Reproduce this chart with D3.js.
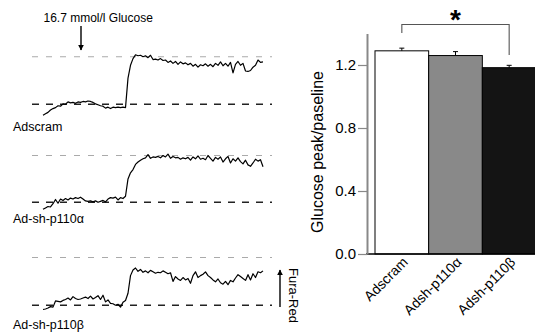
<!DOCTYPE html>
<html>
<head>
<meta charset="utf-8">
<script src="https://cdn.jsdelivr.net/npm/d3@7"></script>
<style>
  body { margin: 0; background: #fff; }
  svg { display: block; font-family: "Liberation Sans", Arial, sans-serif; }
</style>
</head>
<body>
<svg id="chart" width="535" height="333"></svg>
<script>
// ---- data ----
// Fura-Red traces, normalised: 0 = basal (black dashed), 1 = Adscram peak (grey dashed)
const adscramTrace = [
  -0.23, -0.2, -0.17, -0.12, -0.09, -0.07, -0.03, -0.04, 0.01, 0.0,
  0.05, 0.03, 0.04, 0.02, 0.05, 0.04, 0.06, 0.05, 0.07, 0.06,
  0.04, 0.01, -0.01, -0.03, -0.04, -0.08, -0.06, -0.09, -0.06, -0.07,
  -0.06, -0.07, -0.06, -0.07, 0.55, 0.82, 0.96, 1.04, 1.02, 1.03,
  1.0, 1.02, 0.98, 1.03, 0.94, 0.95, 0.93, 0.96, 0.92, 0.93,
  0.88, 0.91, 0.86, 0.9, 0.84, 0.89, 0.85, 0.87, 0.83, 0.86,
  0.8, 0.84, 0.78, 0.83, 0.81, 0.85, 0.8, 0.84, 0.79, 0.86,
  0.82, 0.89, 0.81, 0.86, 0.8, 0.88, 0.66, 0.84, 0.9, 0.82,
  0.86, 0.7, 0.69, 0.71, 0.78, 0.82, 0.93, 0.88, 0.89
];
const p110aTrace = [
  -0.15, -0.12, -0.09, -0.1, -0.03, 0.06, -0.02, 0.07, 0.04, 0.08,
  0.05, 0.09, 0.07, 0.1, 0.08, 0.11, 0.07, 0.03, 0.02, 0.03,
  0.01, 0.03, 0.0, 0.02, 0.04, 0.01, 0.07, 0.1, 0.09, 0.11,
  0.05, 0.1, 0.08, 0.13, 0.5, 0.63, 0.7, 0.81, 0.86, 0.9,
  0.93, 0.95, 1.02, 0.94, 0.97, 0.96, 0.98, 0.95, 1.0, 0.97,
  1.03, 0.94, 0.98, 0.95, 0.96, 0.92, 0.95, 0.93, 0.96, 0.9,
  0.97, 0.93, 0.99, 0.92, 0.94, 0.91, 1.0, 0.94, 0.88, 0.96,
  0.92, 0.97, 0.86, 0.93, 0.98, 0.84, 0.93, 0.88, 0.95, 0.87,
  0.82, 0.9, 0.8, 0.77, 0.84, 0.92, 0.88, 0.91, 0.76
];
const p110bTrace = [
  -0.09, -0.08, -0.06, -0.03, -0.04, 0.09, 0.08, 0.07, 0.1, 0.12,
  0.15, 0.11, 0.18, 0.14, 0.12, 0.13, 0.15, 0.17, 0.14, 0.19,
  0.13, 0.16, 0.2, 0.12, 0.21, 0.07, 0.11, 0.04, 0.03, 0.0,
  0.02, -0.04, 0.06, 0.1, 0.25, 0.62, 0.74, 0.78, 0.71, 0.75,
  0.69, 0.72, 0.68, 0.73, 0.7, 0.67, 0.69, 0.68, 0.72, 0.69,
  0.66, 0.68, 0.5, 0.6, 0.55, 0.52, 0.58, 0.53, 0.56, 0.46,
  0.62, 0.7, 0.58, 0.62, 0.65, 0.7, 0.62, 0.58, 0.53, 0.49,
  0.55, 0.47, 0.44, 0.5, 0.43, 0.52, 0.49, 0.57, 0.64, 0.6,
  0.56, 0.52, 0.64, 0.53, 0.66, 0.58, 0.7, 0.68, 0.72
];
const traceLabels = ["Adscram", "Ad-sh-p110\u03b1", "Ad-sh-p110\u03b2"];

// bar chart
const barGroups = ["Adscram", "Adsh-p110\u03b1", "Adsh-p110\u03b2"];
const barMeans = [1.29, 1.26, 1.183];
const barErrors = [0.017, 0.025, 0.015];
const barColors = ["#ffffff", "#898989", "#141414"];
const yTicks = [0.0, 0.4, 0.8, 1.2];

const svg = d3.select("#chart");
const font = "\"Liberation Sans\", Arial, sans-serif";

// arrow markers
const defs = svg.append("defs");
defs.append("marker")
    .attr("id", "arrowhead")
    .attr("viewBox", "0 0 10 10")
    .attr("refX", 9).attr("refY", 5)
    .attr("markerWidth", 6).attr("markerHeight", 7)
    .attr("markerUnits", "userSpaceOnUse")
    .attr("orient", "auto")
  .append("path")
    .attr("d", "M0,0L10,5L0,10z")
    .attr("fill", "#000");

// ---- left panel: traces ----
const traces = [adscramTrace, p110aTrace, p110bTrace];
const panels = [
  { base: 104.3, peak: 56.7, labelY: 131 },
  { base: 202.3, peak: 155.5, labelY: 223.3 },
  { base: 305.2, peak: 257.5, labelY: 329 }
];

const tx = d3.scaleLinear().domain([0, adscramTrace.length - 1]).range([43, 263]);

traces.forEach((tr, k) => {
  const p = panels[k];
  const ty = d3.scaleLinear().domain([0, 1]).range([p.base, p.peak]);
  const g = svg.append("g").attr("class", "trace");

  g.append("line")
      .attr("x1", 32).attr("x2", 272)
      .attr("y1", ty(1)).attr("y2", ty(1))
      .attr("stroke", "#aaa")
      .attr("stroke-width", 1.1)
      .attr("stroke-dasharray", "6,8");

  g.append("line")
      .attr("x1", 32).attr("x2", 272)
      .attr("y1", ty(0)).attr("y2", ty(0))
      .attr("stroke", "#222")
      .attr("stroke-width", 1.4)
      .attr("stroke-dasharray", "7,7");

  const line = d3.line()
      .x((d, i) => tx(i))
      .y(d => ty(d));

  g.append("path")
      .datum(tr)
      .attr("d", line)
      .attr("fill", "none")
      .attr("stroke", "#000")
      .attr("stroke-width", 1.2)
      .attr("stroke-linejoin", "round");

  g.append("text")
      .attr("x", 13).attr("y", p.labelY)
      .style("font-size", "12.5px")
      .text(traceLabels[k]);
});

// glucose arrow
svg.append("text")
    .attr("x", 43.5).attr("y", 21.7)
    .style("font-size", "12px")
    .text("16.7 mmol/l Glucose");
svg.append("line")
    .attr("x1", 81).attr("x2", 81)
    .attr("y1", 26).attr("y2", 50)
    .attr("stroke", "#000").attr("stroke-width", 1.4)
    .attr("marker-end", "url(#arrowhead)");

// Fura-Red arrow
svg.append("line")
    .attr("x1", 280).attr("x2", 280)
    .attr("y1", 307).attr("y2", 270)
    .attr("stroke", "#000").attr("stroke-width", 1.4)
    .attr("marker-end", "url(#arrowhead)");
svg.append("text")
    .attr("transform", "translate(289,268) rotate(90)")
    .style("font-size", "13px")
    .text("Fura-Red");

// ---- right panel: bar chart ----
const x = d3.scaleBand().domain(barGroups).range([375, 536]).padding(0);
const y = d3.scaleLinear().domain([0, 1.4]).range([254, 33.5]);

const bars = svg.append("g").attr("class", "bars");
bars.selectAll("rect")
  .data(barGroups)
  .join("rect")
    .attr("x", d => x(d))
    .attr("y", (d, i) => y(barMeans[i]))
    .attr("width", x.bandwidth())
    .attr("height", (d, i) => y(0) - y(barMeans[i]))
    .attr("fill", (d, i) => barColors[i])
    .attr("stroke", "#000")
    .attr("stroke-width", 1);

// error bars
const err = svg.append("g").attr("class", "errors")
    .attr("stroke", "#000").attr("stroke-width", 1);
barGroups.forEach((d, i) => {
  const cx = x(d) + x.bandwidth() / 2;
  err.append("line")
      .attr("x1", cx).attr("x2", cx)
      .attr("y1", y(barMeans[i])).attr("y2", y(barMeans[i] + barErrors[i]));
  err.append("line")
      .attr("x1", cx - 2.5).attr("x2", cx + 2.5)
      .attr("y1", y(barMeans[i] + barErrors[i])).attr("y2", y(barMeans[i] + barErrors[i]));
});

// baseline
svg.append("line")
    .attr("x1", 366).attr("x2", 535)
    .attr("y1", y(0)).attr("y2", y(0))
    .attr("stroke", "#000").attr("stroke-width", 1.5);

// y axis
const yAxis = svg.append("g")
    .attr("transform", "translate(367,0)")
    .call(d3.axisLeft(y).tickValues(yTicks).tickFormat(d3.format(".1f"))
      .tickSize(9).tickSizeOuter(0).tickPadding(2));
yAxis.select(".domain").attr("stroke", "#888").attr("stroke-width", 2);
yAxis.selectAll(".tick line").attr("stroke", "#888").attr("stroke-width", 1.2);
yAxis.selectAll(".tick text")
    .attr("fill", "#000")
    .style("font-family", font)
    .style("font-size", "15px");

svg.append("text")
    .attr("transform", "translate(323,152) rotate(-90)")
    .attr("text-anchor", "middle")
    .style("font-size", "16px")
    .text("Glucose peak/paseline");

// x labels
svg.append("g").selectAll("text")
  .data(barGroups)
  .join("text")
    .attr("transform", d => `translate(${x(d) + x.bandwidth() / 2 + 7},263) rotate(-45)`)
    .attr("text-anchor", "end")
    .style("font-size", "14px")
    .text(d => d);

// significance bracket
const c0 = x(barGroups[0]) + x.bandwidth() / 2;
const c2 = x(barGroups[2]) + x.bandwidth() / 2;
svg.append("path")
    .attr("d", `M${c0},33V24.5H${c2}V55`)
    .attr("fill", "none")
    .attr("stroke", "#555")
    .attr("stroke-width", 1.1);
svg.append("text")
    .attr("x", (c0 + c2) / 2).attr("y", 29)
    .attr("text-anchor", "middle")
    .style("font-size", "28px")
    .style("font-weight", "bold")
    .text("*");
</script>
</body>
</html>
